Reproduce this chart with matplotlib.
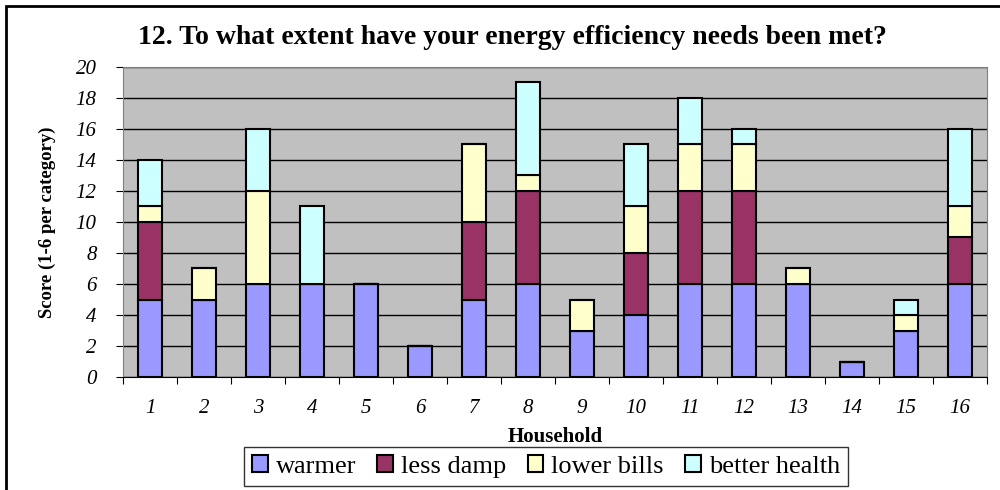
import numpy as np
import matplotlib.pyplot as plt
from matplotlib.patches import Rectangle

households = [str(i) for i in range(1, 17)]
warmer = [5, 5, 6, 6, 6, 2, 5, 6, 3, 4, 6, 6, 6, 1, 3, 6]
less_damp = [5, 0, 0, 0, 0, 0, 5, 6, 0, 4, 6, 6, 0, 0, 0, 3]
lower_bills = [1, 2, 6, 0, 0, 0, 5, 1, 2, 3, 3, 3, 1, 0, 1, 2]
better_health = [3, 0, 4, 5, 0, 0, 0, 6, 0, 4, 3, 1, 0, 0, 1, 5]

series = [warmer, less_damp, lower_bills, better_health]
labels = ["warmer", "less damp", "lower bills", "better health"]
colors = ["#9999FF", "#993366", "#FFFFCC", "#CCFFFF"]

plt.rcParams['font.family'] = ['Liberation Serif', 'DejaVu Serif']

fig = plt.figure(figsize=(10, 4.9), dpi=100)
ax = fig.add_axes([0.123, 0.2306, 0.864, 0.6327])
ax.set_facecolor("#C0C0C0")

x = np.arange(len(households))
bottom = np.zeros(len(households))
for vals, lab, col in zip(series, labels, colors):
    v = np.array(vals, dtype=float)
    ax.bar(x, v, 0.45, bottom=bottom, color=col, edgecolor="black",
           linewidth=1.5, label=lab, zorder=3)
    bottom += v

ax.set_ylim(0, 20)
ax.set_xlim(-0.5, len(households) - 0.5)
ax.set_yticks(range(0, 21, 2))
ax.set_yticklabels([str(t) for t in range(0, 21, 2)], fontsize=15, style="italic")
ax.set_xticks(np.arange(-0.5, len(households), 1), minor=False)
ax.set_xticklabels([])
ax.set_xticks(x, minor=True)
ax.set_xticklabels(households, minor=True, fontsize=15, style="italic")
ax.tick_params(axis="x", which="minor", length=0, pad=16)
ax.tick_params(axis="x", which="major", length=5, direction="out")
ax.tick_params(axis="y", length=5, direction="out", pad=14)
ax.grid(axis="y", color="black", linewidth=1, zorder=0)
for s in ["top", "right", "left"]:
    ax.spines[s].set_color("#808080")
ax.spines["bottom"].set_color("black")

fig.text(0.555, 1 - 437 / 490, "Household", ha="center", va="center",
         fontsize=15, fontweight="bold")
fig.text(0.047, 0.547, "Score (1-6 per category)", ha="center", va="center",
         rotation=90, fontsize=13.5, fontweight="bold")
fig.text(0.512, 1 - 37 / 490, "12. To what extent have your energy efficiency needs been met?",
         ha="center", va="center", fontsize=20, fontweight="bold")

leg = ax.legend(loc="lower center", bbox_to_anchor=(0.546, 4 / 490), bbox_transform=fig.transFigure,
                ncol=4, prop={"family": "Liberation Serif", "size": 19}, frameon=True,
                fancybox=False, edgecolor="black", borderaxespad=0,
                handlelength=0.6, handleheight=0.6, handletextpad=0.3, columnspacing=0.8,
                borderpad=0.3)
leg.get_frame().set_linewidth(1)

fig.patches.append(Rectangle((0.006, -0.1), 1.1, 1.088, transform=fig.transFigure,
                             fill=False, edgecolor="black", linewidth=2))

fig.savefig("out.png", dpi=100)
